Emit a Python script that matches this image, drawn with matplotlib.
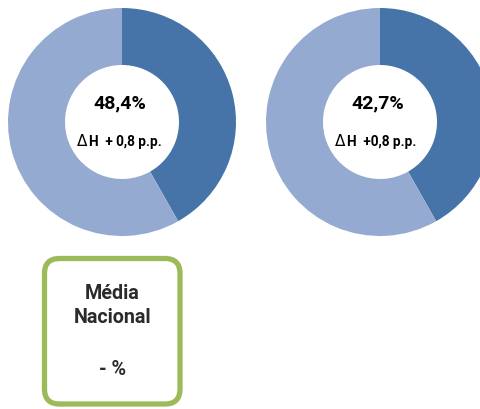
import matplotlib.pyplot as plt
from matplotlib.patches import FancyBboxPatch

# data
shares = [[41.8, 58.2], [41.8, 58.2]]      # dark / light slice of each donut
main_labels = ["48,4%", "42,7%"]
delta_labels = ["H  + 0,8 p.p.", "H  +0,8 p.p."]
box_lines = ["Média", "Nacional", "- %"]

colors = ["#4674A9", "#95AAD1"]
W, H = 481, 410
FONT = ["Roboto", "DejaVu Sans"]

fig = plt.figure(figsize=(W / 100, H / 100), dpi=100)
ax = fig.add_axes([0, 0, 1, 1])

centers = [(122, 123), (380, 123)]   # pixel coords, y from top
radius = 114

for (cx, cy), vals, lab, dlab in zip(centers, shares, main_labels, delta_labels):
    ax.pie(vals, colors=colors, startangle=90, counterclock=False,
           center=(cx, H - cy), radius=radius, frame=True,
           wedgeprops=dict(width=radius - 57, linewidth=0))
    ax.text(cx - 2, H - (cy - 15), lab, ha="center", va="baseline",
            fontsize=14, fontweight="bold", family=FONT, color="black")
    ax.text(cx - 45, H - (cy + 23), "\u0394", ha="left", va="baseline",
            fontsize=11, family="DejaVu Sans", color="black")
    ax.text(cx - 33, H - (cy + 23), dlab, ha="left", va="baseline",
            fontsize=9.8, fontweight="bold", family=FONT, color="black")

# the green rounded box at the bottom
box = FancyBboxPatch((44.5 + 15, H - 405 + 15), 135.5 - 30, 145.5 - 30,
                     boxstyle="round,pad=15", linewidth=3.8,
                     edgecolor="#9BBB59", facecolor="white")
ax.add_patch(box)
baselines = [299, 323, 375]
for txt, y in zip(box_lines, baselines):
    ax.text(112.5, H - y, txt, ha="center", va="baseline", fontsize=14.2,
            fontweight="bold", family=FONT, color="#2b2b2b")

ax.set_xlim(0, W)
ax.set_ylim(0, H)
ax.set_aspect("equal")
ax.axis("off")

fig.savefig("out.png", dpi=100)
